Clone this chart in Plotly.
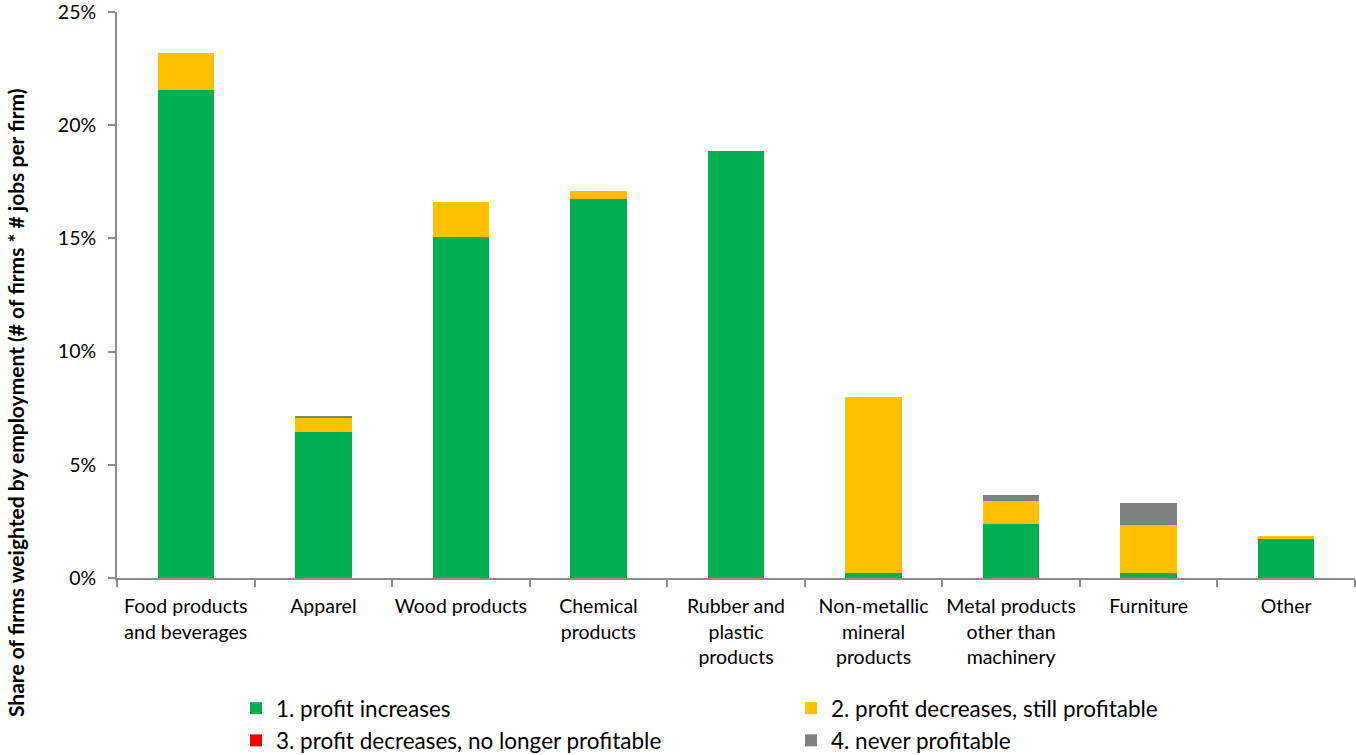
import plotly.graph_objects as go

categories = ["Food products<br>and beverages", "Apparel", "Wood products", "Chemical<br>products",
              "Rubber and<br>plastic<br>products", "Non-metallic<br>mineral<br>products",
              "Metal products<br>other than<br>machinery", "Furniture", "Other"]
profit_increases = [21.55, 6.45, 15.06, 16.74, 18.86, 0.22, 2.39, 0.23, 1.74]
profit_decreases_still = [1.64, 0.66, 1.55, 0.35, 0.0, 7.77, 1.01, 2.12, 0.12]
profit_decreases_no_longer = [0, 0, 0, 0, 0, 0, 0, 0, 0]
never_profitable = [0.0, 0.05, 0.0, 0.0, 0.0, 0.0, 0.27, 0.95, 0.0]

series = [
    ("1. profit increases", profit_increases, "#00B050"),
    ("2. profit decreases, still profitable", profit_decreases_still, "#FFC000"),
    ("3. profit decreases, no longer profitable", profit_decreases_no_longer, "#FF0000"),
    ("4. never profitable", never_profitable, "#808080"),
]

font_family = "Lato, 'Open Sans', sans-serif"

fig = go.Figure()
for name, vals, color in series:
    fig.add_trace(go.Bar(x=categories, y=vals, name=name, marker_color=color,
                         marker_line_width=0))

fig.update_layout(
    barmode="stack",
    bargap=0.59,
    width=1356, height=755,
    margin=dict(l=117, r=1, t=12, b=177, autoexpand=False),
    plot_bgcolor="white", paper_bgcolor="white",
    font=dict(family=font_family, size=19.5, color="black"),
    showlegend=True,
    legend=dict(orientation="h", x=(236 - 117) / 1238, y=(578 - 687) / 566,
                xanchor="left", yanchor="top", entrywidth=510, entrywidthmode="pixels",
                font=dict(size=22.5), traceorder="normal", tracegroupgap=0, itemwidth=30),
)
fig.update_xaxes(
    showline=True, linecolor="#8c8c8c", linewidth=2,
    ticks="outside", tickson="boundaries", ticklen=7, tickcolor="#8c8c8c", tickwidth=2,
    showgrid=False, tickangle=0, ticklabelstandoff=10,
)
fig.update_yaxes(
    range=[0, 25], dtick=5, ticksuffix="%",
    showline=True, linecolor="#8c8c8c", linewidth=2,
    ticks="outside", ticklen=7, tickcolor="#8c8c8c", tickwidth=2,
    showgrid=False, zeroline=False, ticklabelstandoff=8, ticklabeloverflow="allow",
)
fig.add_annotation(
    text="<b>Share of firms weighted by employment (# of firms * # jobs per firm)</b>",
    xref="paper", yref="paper", x=(15 - 117) / 1238, y=(578 - 403) / 566,
    textangle=-90, showarrow=False, font=dict(size=21, family=font_family),
    xanchor="center", yanchor="middle",
)

fig.write_html("out.html", config={"displayModeBar": False},
               post_script="document.body.style.margin='0px';document.body.style.overflow='hidden';")
